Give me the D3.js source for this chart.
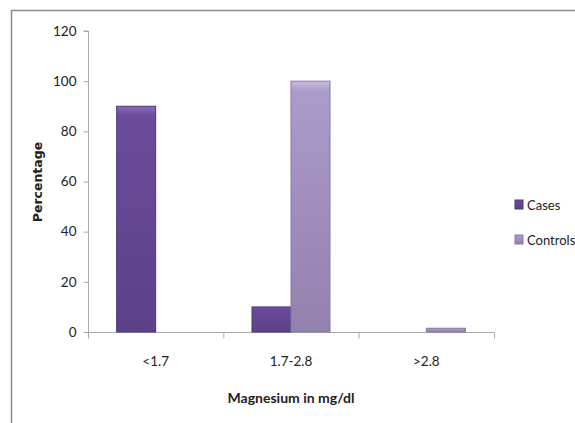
<!DOCTYPE html>
<html>
<head>
<meta charset="utf-8">
<script src="https://cdn.jsdelivr.net/npm/d3@7"></script>
<style>
  body { margin: 0; background: #fff; }
  text { font-family: Lato, "Open Sans", sans-serif; fill: #222; }
</style>
</head>
<body>
<script>
const categories = ["<1.7", "1.7-2.8", ">2.8"];
const seriesNames = ["Cases", "Controls"];
const cases = [90, 10, 0];
const controls = [0, 100, 1.5];
const yTicks = [0, 20, 40, 60, 80, 100, 120];

const width = 575, height = 423;
const svg = d3.select("body").append("svg")
  .attr("width", width)
  .attr("height", height);

// chart frame (right and bottom edges are cropped off)
svg.append("path")
  .attr("d", "M11.5,430 L11.5,10.5 L580,10.5")
  .attr("fill", "none")
  .attr("stroke", "#8a8a8a")
  .attr("stroke-width", 1.5);

const defs = svg.append("defs");
const colors = { Cases: ["#8a6cb8", "#6b4c9a", "#5c4088"], Controls: ["#c8badf", "#ab9bca", "#9381ae"] };
seriesNames.forEach(s => {
  const gr = defs.append("linearGradient")
    .attr("id", "grad-" + s)
    .attr("x1", 0).attr("y1", 0).attr("x2", 0).attr("y2", 1);
  gr.append("stop").attr("offset", "0%").attr("stop-color", colors[s][0]);
  gr.append("stop").attr("offset", "4%").attr("stop-color", colors[s][1]);
  gr.append("stop").attr("offset", "100%").attr("stop-color", colors[s][2]);
});

const x = d3.scaleBand().domain(categories).range([88, 494]);
const xs = d3.scaleBand().domain(seriesNames).range([x.bandwidth() / 2 - 39, x.bandwidth() / 2 + 39]);
const y = d3.scaleLinear().domain([0, 120]).range([332, 31]);

// y axis
const yAxis = svg.append("g")
  .attr("transform", "translate(88.5,0)")
  .call(d3.axisLeft(y).tickValues(yTicks).tickSize(5).tickPadding(7));
yAxis.select(".domain").attr("stroke", "#aaa").attr("d", `M-5,${y(120)}H0V${y(0)}`);
yAxis.selectAll(".tick line").attr("stroke", "#aaa");
yAxis.selectAll("text").style("font-size", "13.5px").attr("fill", "#222");

// x axis
const xAxis = svg.append("g")
  .attr("transform", `translate(0,${y(0) + 0.5})`)
  .call(d3.axisBottom(x).tickSize(0).tickPadding(24));
xAxis.select(".domain").attr("stroke", "#aaa").attr("d", "M88,0H494");
xAxis.selectAll("text").style("font-size", "13.5px").attr("fill", "#222");
xAxis.selectAll(".sep")
  .data(categories.concat(["end"]))
  .enter().append("line")
  .attr("class", "sep")
  .attr("x1", (d, i) => (i < categories.length ? x(d) : x.range()[1]) + 0.5)
  .attr("x2", (d, i) => (i < categories.length ? x(d) : x.range()[1]) + 0.5)
  .attr("y1", 0).attr("y2", 6)
  .attr("stroke", "#aaa");

// bars
const rows = seriesNames.map((s, si) => ({ name: s, values: si === 0 ? cases : controls }));
rows.forEach(row => {
  svg.append("g").selectAll("rect")
    .data(row.values.map((v, i) => ({ cat: categories[i], v })).filter(d => d.v > 0))
    .enter().append("rect")
    .attr("x", d => x(d.cat) + xs(row.name))
    .attr("width", xs.bandwidth())
    .attr("y", d => y(d.v))
    .attr("height", d => y(0) - y(d.v))
    .attr("fill", `url(#grad-${row.name})`)
    .attr("stroke", row.name === "Cases" ? "#4e3676" : "#8a78a6")
    .attr("stroke-width", 1);
});

// axis titles
svg.append("text")
  .attr("transform", "translate(42,182) rotate(-90)")
  .attr("text-anchor", "middle")
  .style("font-weight", "bold")
  .style("font-family", "'DejaVu Sans', sans-serif")
  .style("font-size", "12.5px")
  .text("Percentage");

svg.append("text")
  .attr("x", 291).attr("y", 403)
  .attr("text-anchor", "middle")
  .style("font-size", "14px")
  .style("font-weight", "bold")
  .text("Magnesium in mg/dl");

// legend
const legend = svg.append("g").selectAll("g")
  .data(seriesNames)
  .enter().append("g")
  .attr("transform", (d, i) => `translate(515,${205 + i * 35})`);
legend.append("rect")
  .attr("x", 0).attr("y", -5)
  .attr("width", 8).attr("height", 9)
  .attr("fill", d => `url(#grad-${d})`)
  .attr("stroke", d => d === "Cases" ? "#4e3676" : "#8a78a6");
legend.append("text")
  .attr("x", 12).attr("y", 5)
  .style("font-size", "13px")
  .text(d => d);
</script>
</body>
</html>
